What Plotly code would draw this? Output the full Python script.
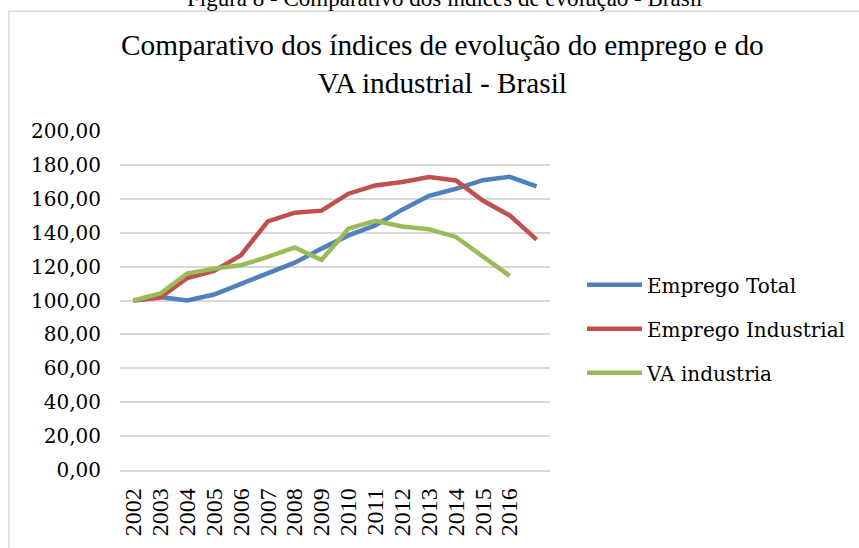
import plotly.graph_objects as go

# dados (indice, 2002 = 100)
anos = [2002, 2003, 2004, 2005, 2006, 2007, 2008, 2009, 2010, 2011,
        2012, 2013, 2014, 2015, 2016, 2017]
rotulos_anos = ["2002", "2003", "2004", "2005", "2006", "2007", "2008", "2009",
                "2010", "2011", "2012", "2013", "2014", "2015", "2016"]

emprego_total = [100.0, 102.1, 100.0, 103.5, 109.8, 116.0, 122.3, 130.6,
                 138.4, 144.3, 153.6, 161.8, 165.9, 171.0, 173.0, 167.3]
emprego_industrial = [100.0, 101.7, 113.3, 117.4, 126.7, 146.7, 151.8, 153.0,
                      163.0, 167.9, 169.9, 172.8, 170.8, 159.0, 150.2, 135.9]
va_industria = [100.0, 104.1, 115.9, 118.8, 120.8, 125.7, 131.3, 123.9,
                142.4, 147.0, 143.7, 142.0, 137.5, 125.7, 114.5]

series = [
    ("Emprego Total", emprego_total, "#4f81bd"),
    ("Emprego Industrial", emprego_industrial, "#c0504d"),
    ("VA industria", va_industria, "#9bbb59"),
]

fig = go.Figure()
for nome, valores, cor in series:
    fig.add_trace(go.Scatter(
        x=anos[:len(valores)],
        y=valores,
        mode="lines",
        name=nome,
        legendgroup=nome,
        line={"color": cor, "width": 4.5},
    ))

# geometria da area de plotagem (pixels)
L, R, T, B = 120, 309, 130.5, 78
W = 859 - L - R
H = 548 - T - B


def px(x):
    return (x - L) / W


def py(y):
    return (548 - B - y) / H


fig.update_layout(
    width=859,
    height=548,
    margin={"l": L, "r": R, "t": T, "b": B, "autoexpand": False},
    paper_bgcolor="white",
    plot_bgcolor="white",
    showlegend=True,
    legend={
        "x": px(582), "y": py(265), "xanchor": "left", "yanchor": "top",
        "font": {"family": "DejaVu Serif", "size": 20, "color": "#000000"},
        "tracegroupgap": 15,
        "itemwidth": 55,
        "bgcolor": "rgba(0,0,0,0)",
    },
    xaxis={
        "range": [2001.5, 2017.5],
        "tickvals": anos[:len(rotulos_anos)],
        "ticktext": rotulos_anos,
        "tickangle": -90,
        "showgrid": False,
        "zeroline": False,
        "showline": True,
        "linecolor": "#d9d9d9",
        "linewidth": 1.5,
        "ticks": "",
        "ticklabelstandoff": 7,
        "tickfont": {"family": "Liberation Serif", "size": 24, "color": "#000000"},
    },
    yaxis={
        "range": [0, 200],
        "tickvals": [0, 20, 40, 60, 80, 100, 120, 140, 160, 180, 200],
        "ticktext": ["0,00", "20,00", "40,00", "60,00", "80,00", "100,00",
                     "120,00", "140,00", "160,00", "180,00", "200,00"],
        "showgrid": True,
        "gridcolor": "#d9d9d9",
        "gridwidth": 1.5,
        "zeroline": False,
        "ticks": "",
        "ticklabelstandoff": 18,
        "tickfont": {"family": "DejaVu Serif", "size": 20, "color": "#000000"},
    },
    shapes=[{
        "type": "rect", "xref": "paper", "yref": "paper",
        "x0": px(9), "x1": px(870), "y0": py(560), "y1": py(10.5),
        "line": {"color": "#d9d9d9", "width": 1.5},
        "fillcolor": "rgba(0,0,0,0)", "layer": "below",
    }],
    annotations=[
        {
            "text": "Figura 8 - Comparativo dos índices de evolução - Brasil",
            "xref": "paper", "yref": "paper", "x": px(444), "y": py(-2.5),
            "xanchor": "center", "yanchor": "middle", "showarrow": False,
            "font": {"family": "Liberation Serif", "size": 23, "color": "#000000"},
        },
        {
            "text": "Comparativo dos índices de evolução do emprego e do<br>VA industrial - Brasil",
            "xref": "paper", "yref": "paper", "x": px(442), "y": py(63),
            "xanchor": "center", "yanchor": "middle", "showarrow": False,
            "font": {"family": "Liberation Serif", "size": 29.3, "color": "#000000"},
        },
    ],
)

fig.write_html("out.html", config={"displayModeBar": False},
               post_script="document.body.style.margin = '0';")
